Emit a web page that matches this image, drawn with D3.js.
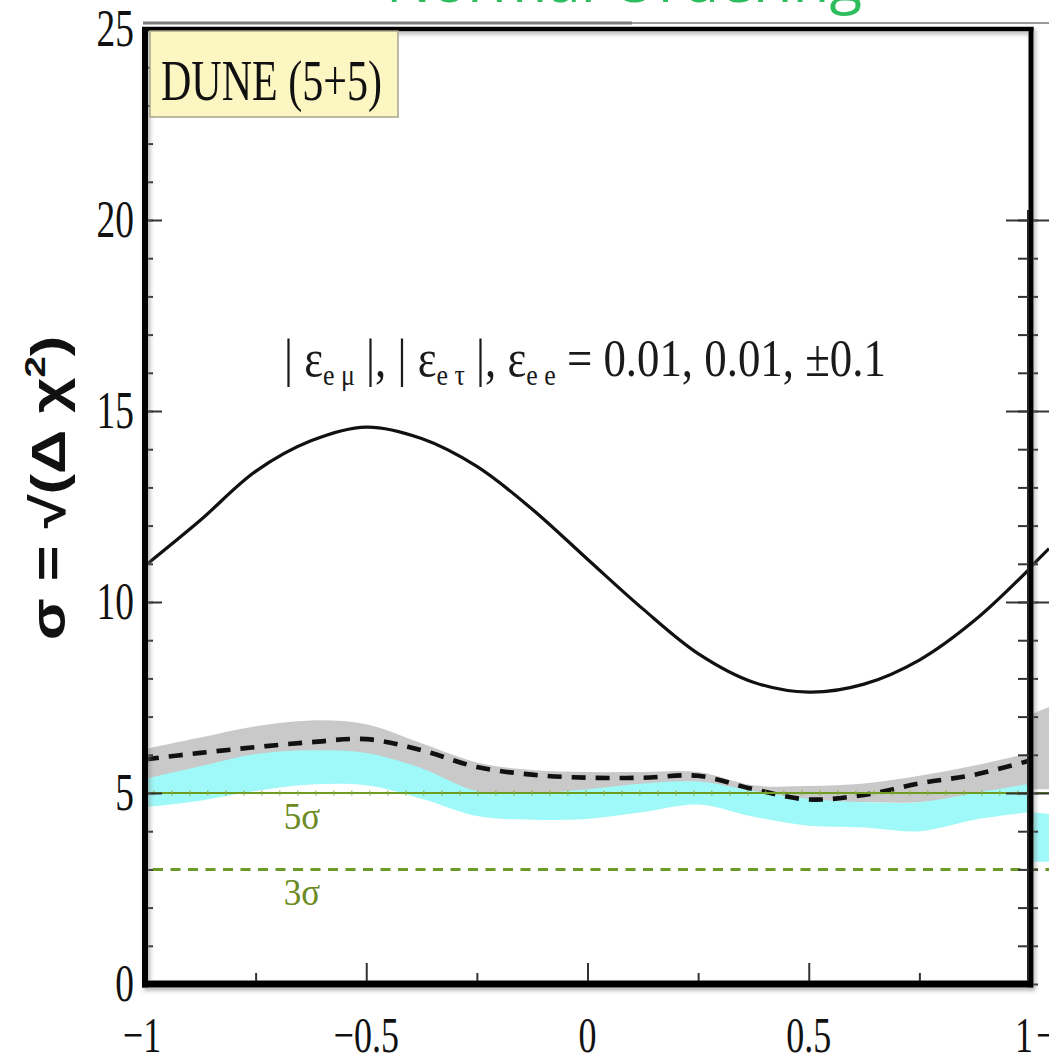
<!DOCTYPE html>
<html>
<head>
<meta charset="utf-8">
<script src="https://cdn.jsdelivr.net/npm/d3@7"></script>
<style>
  html, body { margin: 0; padding: 0; background: #fff; }
  svg { display: block; }
</style>
</head>
<body>
<svg id="chart" width="1049" height="1057"></svg>
<script>
// δCP / π sampling grid
const deltaCP = [-1, -0.875, -0.75, -0.625, -0.5, -0.375, -0.25, -0.125, 0,
                 0.125, 0.25, 0.375, 0.5, 0.625, 0.75, 0.875, 1];

// CP-violation sensitivity, standard interactions (solid curve)
const sigmaSolid  = [10.95, 12.14, 13.42, 14.22, 14.58, 14.28, 13.55, 12.43, 11.12,
                     9.82, 8.65, 7.9, 7.64, 7.85, 8.48, 9.52, 10.88];
// with NSI, central phases (dashed curve)
const sigmaDashed = [5.88, 6.05, 6.2, 6.33, 6.41, 6.12, 5.68, 5.48, 5.4,
                     5.4, 5.45, 5.1, 4.83, 4.95, 5.25, 5.48, 5.85];
// NSI bands: grey (εee = +0.1) and cyan (εee = −0.1)
const grayUpper = [6.15, 6.45, 6.75, 6.9, 6.8, 6.3, 5.8, 5.6, 5.55,
                   5.55, 5.55, 5.2, 5.18, 5.25, 5.45, 5.72, 6.05];
const grayLower = [5.3, 5.6, 5.9, 6.0, 5.95, 5.55, 5.0, 4.95, 5.0,
                   5.15, 5.2, 4.95, 4.8, 4.76, 4.76, 4.95, 5.15];
const cyanUpper = [5.37, 5.7, 6.02, 6.12, 6.05, 5.65, 5.05, 5.0, 5.1,
                   5.25, 5.3, 5.05, 4.85, 4.76, 4.76, 5.0, 5.24];
const cyanLower = [4.63, 4.8, 5.05, 5.22, 5.2, 4.85, 4.4, 4.3, 4.32,
                   4.5, 4.7, 4.38, 4.14, 4.1, 4.0, 4.3, 4.5];

// left edge of the adjacent panel
const nextDelta      = [-1, -0.957];
const nextSigmaSolid = [10.9, 11.4];
const nextGrayUpper  = [7.05, 7.25];
const nextGrayLower  = [5.1, 5.1];
const nextCyanUpper  = [4.5, 4.45];
const nextCyanLower  = [3.2, 3.2];

// significance reference levels
const sigmaLevels = [5, 3];
const sigmaLabels = ["5σ", "3σ"];

// axis ticks
const yMajorTicks = [0, 5, 10, 15, 20, 25];
const yMinorTicks = d3.range(0, 26);
const xMajorTicks = [-1, -0.5, 0, 0.5, 1];
const xMinorTicks = [-0.75, -0.25, 0.25, 0.75];
const xTickLabels = ["−1", "−0.5", "0", "0.5", "1"];

const SERIF = "'Liberation Serif', 'Times New Roman', serif";
const SANS = "'Liberation Sans', Arial, sans-serif";
const SERIF_SQUEEZE = 0.72;

const svg = d3.select("#chart");
const x = d3.scaleLinear().domain([-1, 1]).range([145, 1030]);
const y = d3.scaleLinear().domain([0, 25]).range([984, 29]);
const xNext = d3.scaleLinear().domain([-1, 1]).range([1030, 1915]);

const defs = svg.append("defs");
defs.append("clipPath").attr("id", "plotClip").append("rect")
  .attr("x", x(-1)).attr("y", y(25)).attr("width", x(1) - x(-1)).attr("height", y(0) - y(25));
defs.append("clipPath").attr("id", "nextClip").append("rect")
  .attr("x", x(1)).attr("y", y(20) - 12).attr("width", 40).attr("height", y(0) - y(20) + 12);
defs.append("clipPath").attr("id", "titleClip").append("rect")
  .attr("x", 0).attr("y", 0).attr("width", 1049).attr("height", 21);
const shadow = defs.append("filter").attr("id", "soft")
  .attr("x", "-5%").attr("y", "-5%").attr("width", "110%").attr("height", "110%");
shadow.append("feGaussianBlur").attr("in", "SourceAlpha").attr("stdDeviation", 2.2).attr("result", "b");
shadow.append("feOffset").attr("in", "b").attr("dx", 1.5).attr("dy", 2.5).attr("result", "o");
shadow.append("feFlood").attr("flood-color", "#777").attr("flood-opacity", 0.55);
shadow.append("feComposite").attr("in2", "o").attr("operator", "in").attr("result", "s");
const merge = shadow.append("feMerge");
merge.append("feMergeNode").attr("in", "s");
merge.append("feMergeNode").attr("in", "SourceGraphic");

// heading above the panel, mostly beyond the top edge of the page
svg.append("g").attr("clip-path", "url(#titleClip)")
  .append("text")
  .attr("x", 862).attr("y", 2)
  .attr("text-anchor", "end")
  .attr("font-family", "'Open Sans', sans-serif")
  .attr("font-size", 60)
  .attr("fill", "#2dbd5d")
  .text("Normal Ordering");

// faint rule of the page above the panel
svg.append("line").attr("x1", 143).attr("x2", 632).attr("y1", 23).attr("y2", 23)
  .attr("stroke", "#7a7a7a").attr("stroke-width", 3);
svg.append("line").attr("x1", 632).attr("x2", 1049).attr("y1", 23).attr("y2", 23)
  .attr("stroke", "#9a9a9a").attr("stroke-width", 2);

// ---------- adjacent panel sliver ----------
const next = svg.append("g").attr("clip-path", "url(#nextClip)");
const nextArea = (up, lo) => d3.area()
  .x((d, i) => xNext(nextDelta[i])).y0((d, i) => y(lo[i])).y1((d, i) => y(up[i]))(nextDelta);
next.append("path").attr("d", nextArea(nextGrayUpper, nextGrayLower)).attr("fill", "#c9c9c9");
next.append("path").attr("d", nextArea(nextCyanUpper, nextCyanLower)).attr("fill", "#9ff9f9");
next.append("path")
  .attr("d", d3.line().x((d, i) => xNext(nextDelta[i])).y(d => y(d))(nextSigmaSolid))
  .attr("fill", "none").attr("stroke", "#111").attr("stroke-width", 3.2);

// ---------- main panel ----------
const plot = svg.append("g").attr("clip-path", "url(#plotClip)");
const band = (up, lo) => d3.area()
  .curve(d3.curveCatmullRom)
  .x((d, i) => x(deltaCP[i]))
  .y0((d, i) => y(lo[i]))
  .y1((d, i) => y(up[i]))(deltaCP);
plot.append("path").attr("d", band(grayUpper, grayLower)).attr("fill", "#c9c9c9");
plot.append("path").attr("d", band(cyanUpper, cyanLower)).attr("fill", "#9ff9f9");

// 5σ and 3σ reference lines (continue into the adjacent panel)
svg.append("line")
  .attr("x1", x(-1)).attr("x2", 1049).attr("y1", y(sigmaLevels[0])).attr("y2", y(sigmaLevels[0]))
  .attr("stroke", "#6f9d22").attr("stroke-width", 2);
svg.append("line")
  .attr("x1", x(-1) + 8).attr("x2", x(1)).attr("y1", y(sigmaLevels[0])).attr("y2", y(sigmaLevels[0]))
  .attr("stroke", "#86ad4a").attr("stroke-width", 5).attr("stroke-dasharray", "1.5,16.5")
  .attr("opacity", 0.7);
svg.append("line")
  .attr("x1", x(-1) + 8).attr("x2", 1049).attr("y1", y(sigmaLevels[1])).attr("y2", y(sigmaLevels[1]))
  .attr("stroke", "#6a9a28").attr("stroke-width", 3).attr("stroke-dasharray", "10,7.5");

const lineGen = d3.line().curve(d3.curveCatmullRom).x((d, i) => x(deltaCP[i])).y(d => y(d));
plot.append("path").attr("d", lineGen(sigmaDashed))
  .attr("fill", "none").attr("stroke", "#111").attr("stroke-width", 4.6)
  .attr("stroke-dasharray", "14,10");
plot.append("path").attr("d", lineGen(sigmaSolid))
  .attr("fill", "none").attr("stroke", "#111").attr("stroke-width", 3.2);

// reference level labels
svg.selectAll("text.level").data(sigmaLevels).join("text")
  .attr("class", "level")
  .attr("transform", d => `translate(302,${y(d) + 36}) scale(0.95,1)`)
  .attr("text-anchor", "middle")
  .attr("font-family", SERIF).attr("font-size", 37)
  .attr("fill", "#6b8a22")
  .text((d, i) => sigmaLabels[i]);

// ---------- ticks ----------
const tickStyle = g => {
  g.select(".domain").remove();
  g.selectAll(".tick line").attr("stroke", "#333").attr("stroke-width", 2);
  g.selectAll(".tick text").remove();
};
svg.append("g").attr("transform", `translate(${x(-1)},0)`)
  .call(d3.axisRight(y).tickValues(yMinorTicks).tickSize(8)).call(tickStyle);
svg.append("g").attr("transform", `translate(${x(-1)},0)`)
  .call(d3.axisRight(y).tickValues(yMajorTicks).tickSize(17)).call(tickStyle);
svg.append("g").attr("transform", `translate(0,${y(0)})`)
  .call(d3.axisTop(x).tickValues(xMinorTicks).tickSize(11)).call(tickStyle);
svg.append("g").attr("transform", `translate(0,${y(0)})`)
  .call(d3.axisTop(x).tickValues(xMajorTicks).tickSize(21)).call(tickStyle);

// adjacent panel's axis
const nextAxis = svg.append("g");
nextAxis.append("line").attr("x1", 1028).attr("x2", 1028).attr("y1", y(20) - 10).attr("y2", y(0))
  .attr("stroke", "#222").attr("stroke-width", 2);
nextAxis.append("g").attr("transform", "translate(1028,0)")
  .call(d3.axisLeft(y).tickValues(d3.range(0, 21)).tickSize(10)).call(tickStyle);
nextAxis.append("g").attr("transform", "translate(1028,0)")
  .call(d3.axisRight(y).tickValues(d3.range(0, 21)).tickSize(10)).call(tickStyle);
nextAxis.append("g").attr("transform", "translate(1028,0)")
  .call(d3.axisLeft(y).tickValues([5, 10, 15, 20]).tickSize(22)).call(tickStyle);
nextAxis.append("g").attr("transform", "translate(1028,0)")
  .call(d3.axisRight(y).tickValues([5, 10, 15, 20]).tickSize(22)).call(tickStyle);

// ---------- frame ----------
const frame = svg.append("g").attr("filter", "url(#soft)");
frame.append("line").attr("x1", x(-1)).attr("x2", x(-1)).attr("y1", y(25) - 2).attr("y2", y(0) + 3.5)
  .attr("stroke", "#000").attr("stroke-width", 6);
frame.append("line").attr("x1", x(-1) - 3).attr("x2", x(1) + 3).attr("y1", y(0)).attr("y2", y(0))
  .attr("stroke", "#000").attr("stroke-width", 7);
frame.append("line").attr("x1", x(1) + 1).attr("x2", x(1) + 1).attr("y1", y(25) - 2).attr("y2", y(0) + 3.5)
  .attr("stroke", "#000").attr("stroke-width", 5);
frame.append("line").attr("x1", x(-1) - 3).attr("x2", x(1) + 3.5).attr("y1", y(25)).attr("y2", y(25))
  .attr("stroke", "#000").attr("stroke-width", 4.5);

// ---------- experiment tag ----------
svg.append("rect").attr("x", 150).attr("y", 31).attr("width", 248).attr("height", 86)
  .attr("fill", "#fcf7c2").attr("stroke", "#a8a48a").attr("stroke-width", 1.5);

// squeeze a serif text horizontally so it spans a given width
function fitText(sel, left, width) {
  const w = sel.node().getComputedTextLength();
  const baseY = +sel.attr("data-y");
  sel.attr("transform", `translate(${left},${baseY}) scale(${width / w},1)`);
}

const tag = svg.append("text")
  .attr("data-y", 100)
  .attr("font-family", SERIF).attr("font-size", 56).attr("fill", "#111")
  .text("DUNE (5+5)");
fitText(tag, 161, 221);

// NSI parameter annotation
const note = svg.append("text")
  .attr("data-y", 376)
  .attr("font-family", SERIF).attr("font-size", 52).attr("fill", "#1a1a1a");
const parts = [
  ["| ε", false], ["e μ", true], [" |,  | ε", false], ["e τ", true],
  [" |, ε", false], ["e e", true], [" = 0.01, 0.01, ±0.1", false]
];
parts.forEach(([t, sub], i) => {
  note.append("tspan")
    .attr("font-size", sub ? 30 : 52)
    .attr("dy", sub ? 9 : (i > 0 ? -9 : 0))
    .text(t);
});
fitText(note, 284, 602);

// ---------- tick labels ----------
svg.selectAll("text.ylab").data(yMajorTicks).join("text")
  .attr("class", "ylab")
  .attr("transform", d => `translate(134,${y(d) + 17}) scale(${SERIF_SQUEEZE},1)`)
  .attr("text-anchor", "end")
  .attr("font-family", SERIF).attr("font-size", 52).attr("fill", "#111")
  .text(d => d3.format("d")(d));

svg.selectAll("text.xlab").data(xMajorTicks).join("text")
  .attr("class", "xlab")
  .attr("transform", (d, i) => `translate(${x(d) - (i === 0 ? 3 : 0) - (i === 4 ? 6 : 0)},1052) scale(${SERIF_SQUEEZE},1)`)
  .attr("text-anchor", "middle")
  .attr("font-family", SERIF).attr("font-size", 50).attr("fill", "#111")
  .text((d, i) => xTickLabels[i]);

// adjacent panel's first x label, cut by the page edge
svg.append("text")
  .attr("transform", `translate(${xNext(-1) + 6},1052) scale(${SERIF_SQUEEZE},1)`)
  .attr("font-family", SERIF).attr("font-size", 50).attr("fill", "#111")
  .text(xTickLabels[0]);

// ---------- y-axis title ----------
const yTitle = svg.append("text")
  .attr("transform", "translate(65,488) rotate(-90) scale(1.28,1)")
  .attr("text-anchor", "middle")
  .attr("font-family", SANS).attr("font-weight", "bold").attr("font-size", 48).attr("fill", "#111");
yTitle.append("tspan").text("σ = √(Δ χ");
yTitle.append("tspan").attr("font-size", 30).attr("dy", -20).text("2");
yTitle.append("tspan").attr("dy", 20).text(")");
</script>
</body>
</html>
